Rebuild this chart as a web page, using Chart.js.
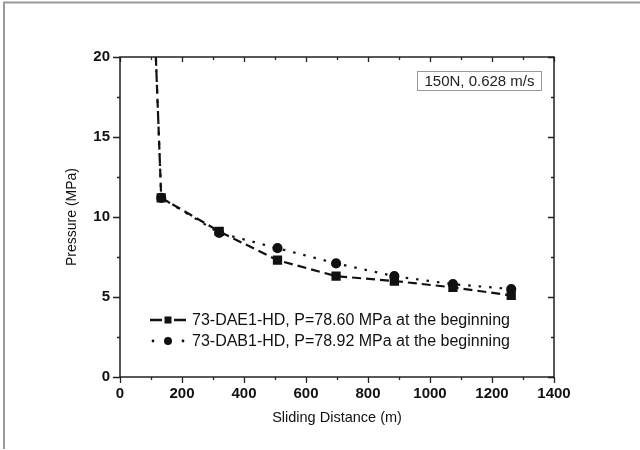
<!DOCTYPE html>
<html>
<head>
<meta charset="utf-8">
<script src="https://cdn.jsdelivr.net/npm/chart.js@4.4.1/dist/chart.umd.min.js"></script>
<style>
  html, body { margin: 0; padding: 0; background: #fff; }
  #wrap { width: 640px; height: 450px; position: relative; }
</style>
</head>
<body>
<div id="wrap"><canvas id="chart" width="640" height="450"></canvas></div>
<script>
// sliding distance (m) and contact pressure (MPa)
const distance = [0, 133, 320, 508, 697, 885, 1074, 1262];
const pressureDAE1 = [78.6, 11.2, 9.1, 7.3, 6.3, 6.0, 5.6, 5.1];
const pressureDAB1 = [78.92, 11.2, 9.0, 8.05, 7.1, 6.3, 5.8, 5.5];
const seriesNames = [
    '73-DAE1-HD, P=78.60 MPa at the beginning',
    '73-DAB1-HD, P=78.92 MPa at the beginning',
];
const xTicks = [0, 200, 400, 600, 800, 1000, 1200, 1400];
const yTicks = [0, 5, 10, 15, 20];
const noteText = '150N, 0.628 m/s';

const ink = '#111';
const font = 'Arial, "Liberation Sans", sans-serif';

function toPoints(ys) {
    return distance.map((x, i) => ({ x: x, y: ys[i] }));
}

// frame, mirrored ticks, legend and the condition label
const decorations = {
    id: 'decorations',
    afterDraw(chart) {
        const { ctx, chartArea: a, scales } = chart;
        const xs = scales.x;
        const ys = scales.y;
        ctx.save();

        // outer picture border
        ctx.strokeStyle = '#999';
        ctx.lineWidth = 2;
        ctx.beginPath();
        ctx.moveTo(4, 449);
        ctx.lineTo(4, 2.5);
        ctx.lineTo(640, 2.5);
        ctx.stroke();

        // plot frame
        ctx.strokeStyle = '#222';
        ctx.lineWidth = 1.5;
        ctx.strokeRect(a.left, a.top, a.right - a.left, a.bottom - a.top);

        ctx.lineWidth = 1.3;
        ctx.beginPath();
        for (let v = 0; v <= 1400; v += 100) {
            const px = Math.round(xs.getPixelForValue(v)) + 0.5;
            const major = v % 200 === 0;
            // bottom: outward
            ctx.moveTo(px, a.bottom);
            ctx.lineTo(px, a.bottom + (major ? 6 : 3));
            // top: inward
            ctx.moveTo(px, a.top);
            ctx.lineTo(px, a.top + (major ? 5 : 3));
        }
        for (let v = 0; v <= 20; v += 2.5) {
            const py = Math.round(ys.getPixelForValue(v)) + 0.5;
            const major = v % 5 === 0;
            // left: outward
            ctx.moveTo(a.left, py);
            ctx.lineTo(a.left - (major ? 7 : 3), py);
            // right: inward
            ctx.moveTo(a.right, py);
            ctx.lineTo(a.right - (major ? 6 : 3), py);
        }
        ctx.stroke();

        // legend
        ctx.strokeStyle = ink;
        ctx.fillStyle = ink;
        ctx.lineWidth = 2.4;
        // dashed sample: two long dashes round a square
        ctx.beginPath();
        ctx.moveTo(150, 320);
        ctx.lineTo(162, 320);
        ctx.moveTo(174, 320);
        ctx.lineTo(186, 320);
        ctx.stroke();
        ctx.fillRect(164.5, 316.5, 7, 7);
        // dotted sample: dots round a circle
        [153, 183].forEach((dx) => {
            ctx.beginPath();
            ctx.arc(dx, 341, 1.4, 0, Math.PI * 2);
            ctx.fill();
        });
        ctx.beginPath();
        ctx.arc(168, 341, 4, 0, Math.PI * 2);
        ctx.fill();

        ctx.font = '16px ' + font;
        ctx.textBaseline = 'middle';
        ctx.textAlign = 'left';
        ctx.fillText(seriesNames[0], 192, 321);
        ctx.fillText(seriesNames[1], 192, 342);

        // condition label
        ctx.strokeStyle = '#999';
        ctx.lineWidth = 1;
        ctx.strokeRect(417.5, 71.5, 124, 19);
        ctx.fillStyle = '#222';
        ctx.font = '15px ' + font;
        ctx.textAlign = 'center';
        ctx.textBaseline = 'middle';
        ctx.fillText(noteText, 479.5, 81.5);

        ctx.restore();
    },
};

const ctx = document.getElementById('chart').getContext('2d');
new Chart(ctx, {
    type: 'line',
    data: {
        datasets: [
            {
                label: seriesNames[0],
                data: toPoints(pressureDAE1),
                borderColor: ink,
                backgroundColor: ink,
                borderWidth: 2.2,
                borderDash: [9, 5],
                pointStyle: 'rect',
                pointRadius: (c) => (c.dataIndex === 0 ? 0 : 5),
                tension: 0,
                fill: false,
            },
            {
                label: seriesNames[1],
                data: toPoints(pressureDAB1),
                borderColor: ink,
                backgroundColor: ink,
                borderWidth: 2.2,
                borderDash: [2.5, 8],
                pointStyle: 'circle',
                pointRadius: (c) => (c.dataIndex === 0 ? 0 : 4),
                tension: 0,
                fill: false,
            },
        ],
    },
    options: {
        responsive: false,
        animation: false,
        devicePixelRatio: 1,
        layout: { padding: { top: 57, right: 86, bottom: 0, left: 0 } },
        plugins: {
            legend: { display: false },
            tooltip: { enabled: false },
        },
        scales: {
            x: {
                type: 'linear',
                min: 0,
                max: 1400,
                afterFit: (s) => { s.height = 73; },
                afterBuildTicks: (s) => { s.ticks = xTicks.map((v) => ({ value: v })); },
                grid: { display: false, drawTicks: false },
                border: { display: false },
                ticks: {
                    padding: 8,
                    color: ink,
                    maxRotation: 0,
                    callback: (v) => String(v),
                    font: { family: font, size: 15, weight: 'bold' },
                },
                title: {
                    display: true,
                    text: 'Sliding Distance (m)',
                    color: ink,
                    font: { family: font, size: 14.5 },
                    padding: { top: 0, bottom: 23 },
                },
            },
            y: {
                type: 'linear',
                min: 0,
                max: 20,
                afterFit: (s) => { s.width = 120; },
                afterBuildTicks: (s) => { s.ticks = yTicks.map((v) => ({ value: v })); },
                grid: { display: false, drawTicks: false },
                border: { display: false },
                ticks: {
                    padding: 10,
                    color: ink,
                    callback: (v) => String(v),
                    font: { family: font, size: 15, weight: 'bold' },
                },
                title: {
                    display: true,
                    text: 'Pressure (MPa)',
                    color: ink,
                    font: { family: font, size: 14 },
                    padding: { top: 64, bottom: 0 },
                },
            },
        },
    },
    plugins: [decorations],
});
</script>
</body>
</html>
